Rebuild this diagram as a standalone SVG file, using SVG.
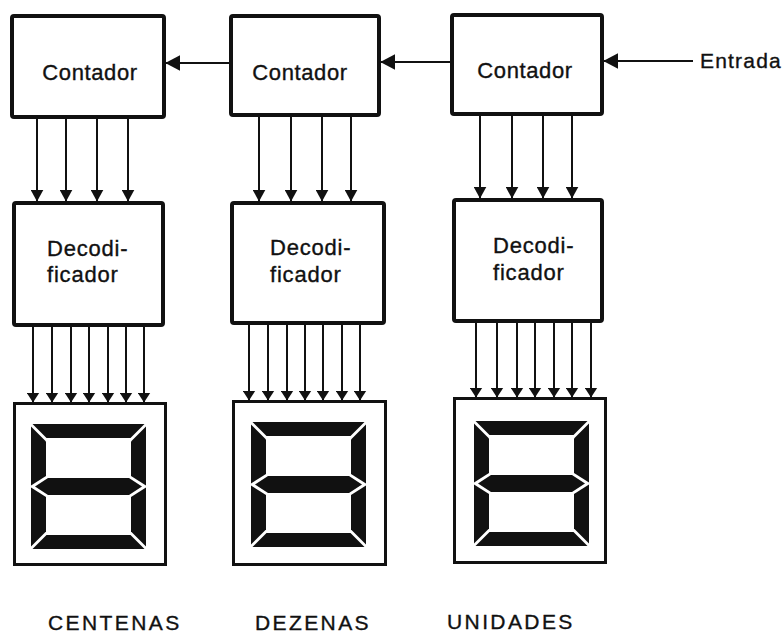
<svg xmlns="http://www.w3.org/2000/svg" xmlns:xlink="http://www.w3.org/1999/xlink" width="783" height="633" viewBox="0 0 783 633">
<style>
.box{fill:#fff;stroke:#111;stroke-width:4;stroke-linejoin:round}
.disp{fill:#fff;stroke:#111;stroke-width:3}
.w{stroke:#111;stroke-width:2;fill:none}
.t{font-family:"Liberation Sans",Arial,sans-serif;fill:#111;stroke:#111;stroke-width:0.35px}
.ct{font-size:22px;letter-spacing:0.6px;text-anchor:middle}
.dt{font-size:22px;letter-spacing:0.8px}
.lb{font-size:21px;letter-spacing:2.4px}
.seg{fill:#111}
</style>
<defs>
<marker id="ahH" viewBox="0 0 10 10" refX="9.5" refY="5" markerWidth="15" markerHeight="16" markerUnits="userSpaceOnUse" orient="auto" preserveAspectRatio="none"><path d="M0,0L10,5L0,10z" fill="#111"/></marker>
<marker id="ahV" viewBox="0 0 10 10" refX="9.5" refY="5" markerWidth="12" markerHeight="13" markerUnits="userSpaceOnUse" orient="auto" preserveAspectRatio="none"><path d="M0,0L10,5L0,10z" fill="#111"/></marker>
<marker id="ahS" viewBox="0 0 10 10" refX="9.5" refY="5" markerWidth="10" markerHeight="13" markerUnits="userSpaceOnUse" orient="auto" preserveAspectRatio="none"><path d="M0,0L10,5L0,10z" fill="#111"/></marker>
<g id="digit" class="seg">
<polygon points="1.5,0 113.5,0 99.5,14 15.5,14"/>
<polygon points="1.5,125 113.5,125 99.5,111 15.5,111"/>
<polygon points="0,2.5 15,17.5 15,52 0,61.5"/>
<polygon points="0,122.5 15,107.5 15,73 0,63.5"/>
<polygon points="115,2.5 100,17.5 100,52 115,61.5"/>
<polygon points="115,122.5 100,107.5 100,73 115,63.5"/>
<polygon points="4,62.5 17,54 98,54 111,62.5 98,71 17,71"/>
</g>
</defs>
<rect width="783" height="633" fill="#fff"/>

<g id="connectors">
<line class="w" x1="229" y1="63" x2="166" y2="63" marker-end="url(#ahH)"/>
<line class="w" x1="450" y1="62" x2="381" y2="62" marker-end="url(#ahH)"/>
<line class="w" x1="693" y1="61" x2="604" y2="61" marker-end="url(#ahH)"/>

<line class="w" x1="37" y1="119" x2="37" y2="201" marker-end="url(#ahV)"/>
<line class="w" x1="66" y1="119" x2="66" y2="201" marker-end="url(#ahV)"/>
<line class="w" x1="97" y1="119" x2="97" y2="201" marker-end="url(#ahV)"/>
<line class="w" x1="128" y1="119" x2="128" y2="201" marker-end="url(#ahV)"/>

<line class="w" x1="259" y1="117" x2="259" y2="201" marker-end="url(#ahV)"/>
<line class="w" x1="291" y1="117" x2="291" y2="201" marker-end="url(#ahV)"/>
<line class="w" x1="322" y1="117" x2="322" y2="201" marker-end="url(#ahV)"/>
<line class="w" x1="351" y1="117" x2="351" y2="201" marker-end="url(#ahV)"/>

<line class="w" x1="480" y1="116" x2="480" y2="198" marker-end="url(#ahV)"/>
<line class="w" x1="512" y1="116" x2="512" y2="198" marker-end="url(#ahV)"/>
<line class="w" x1="543" y1="116" x2="543" y2="198" marker-end="url(#ahV)"/>
<line class="w" x1="572" y1="116" x2="572" y2="198" marker-end="url(#ahV)"/>

<line class="w" x1="33" y1="327" x2="33" y2="402" marker-end="url(#ahS)"/>
<line class="w" x1="52" y1="327" x2="52" y2="402" marker-end="url(#ahS)"/>
<line class="w" x1="71" y1="327" x2="71" y2="402" marker-end="url(#ahS)"/>
<line class="w" x1="89" y1="327" x2="89" y2="402" marker-end="url(#ahS)"/>
<line class="w" x1="108" y1="327" x2="108" y2="402" marker-end="url(#ahS)"/>
<line class="w" x1="126" y1="327" x2="126" y2="402" marker-end="url(#ahS)"/>
<line class="w" x1="144" y1="327" x2="144" y2="402" marker-end="url(#ahS)"/>

<line class="w" x1="249" y1="325" x2="249" y2="400" marker-end="url(#ahS)"/>
<line class="w" x1="268" y1="325" x2="268" y2="400" marker-end="url(#ahS)"/>
<line class="w" x1="287" y1="325" x2="287" y2="400" marker-end="url(#ahS)"/>
<line class="w" x1="305" y1="325" x2="305" y2="400" marker-end="url(#ahS)"/>
<line class="w" x1="323" y1="325" x2="323" y2="400" marker-end="url(#ahS)"/>
<line class="w" x1="342" y1="325" x2="342" y2="400" marker-end="url(#ahS)"/>
<line class="w" x1="360" y1="325" x2="360" y2="400" marker-end="url(#ahS)"/>

<line class="w" x1="476" y1="323" x2="476" y2="397" marker-end="url(#ahS)"/>
<line class="w" x1="497" y1="323" x2="497" y2="397" marker-end="url(#ahS)"/>
<line class="w" x1="517" y1="323" x2="517" y2="397" marker-end="url(#ahS)"/>
<line class="w" x1="535" y1="323" x2="535" y2="397" marker-end="url(#ahS)"/>
<line class="w" x1="554" y1="323" x2="554" y2="397" marker-end="url(#ahS)"/>
<line class="w" x1="572" y1="323" x2="572" y2="397" marker-end="url(#ahS)"/>
<line class="w" x1="591" y1="323" x2="591" y2="397" marker-end="url(#ahS)"/>
</g>

<g id="contador1"><rect class="box" x="12" y="16" width="152" height="101" rx="2"/><text class="t ct" x="90" y="80">Contador</text></g>
<g id="contador2"><rect class="box" x="231" y="16" width="148" height="99" rx="2"/><text class="t ct" x="300" y="80">Contador</text></g>
<g id="contador3"><rect class="box" x="452" y="15" width="150" height="99" rx="2"/><text class="t ct" x="525" y="78">Contador</text></g>
<g id="entrada"><text class="t lb" style="letter-spacing:1.2px" x="700" y="68">Entrada</text></g>

<g id="decodificador1"><rect class="box" x="14" y="203" width="149" height="122" rx="2"/><text class="t dt" x="47" y="256">Decodi-</text><text class="t dt" x="47" y="282">ficador</text></g>
<g id="decodificador2"><rect class="box" x="232" y="203" width="152" height="120" rx="2"/><text class="t dt" x="270" y="255">Decodi-</text><text class="t dt" x="270" y="282">ficador</text></g>
<g id="decodificador3"><rect class="box" x="454" y="200" width="148" height="121" rx="2"/><text class="t dt" x="493" y="253">Decodi-</text><text class="t dt" x="493" y="280">ficador</text></g>

<g id="display1"><rect class="disp" x="14.5" y="403.5" width="151" height="161"/><use xlink:href="#digit" href="#digit" x="31" y="424"/></g>
<g id="display2"><rect class="disp" x="233.5" y="401.5" width="152" height="163"/><use xlink:href="#digit" href="#digit" x="251" y="422"/></g>
<g id="display3"><rect class="disp" x="454.5" y="398.5" width="151" height="164"/><use xlink:href="#digit" href="#digit" x="474" y="421"/></g>

<g id="labels">
<text class="t lb" x="48" y="630">CENTENAS</text>
<text class="t lb" x="255" y="630">DEZENAS</text>
<text class="t lb" x="447" y="629">UNIDADES</text>
</g>
</svg>
